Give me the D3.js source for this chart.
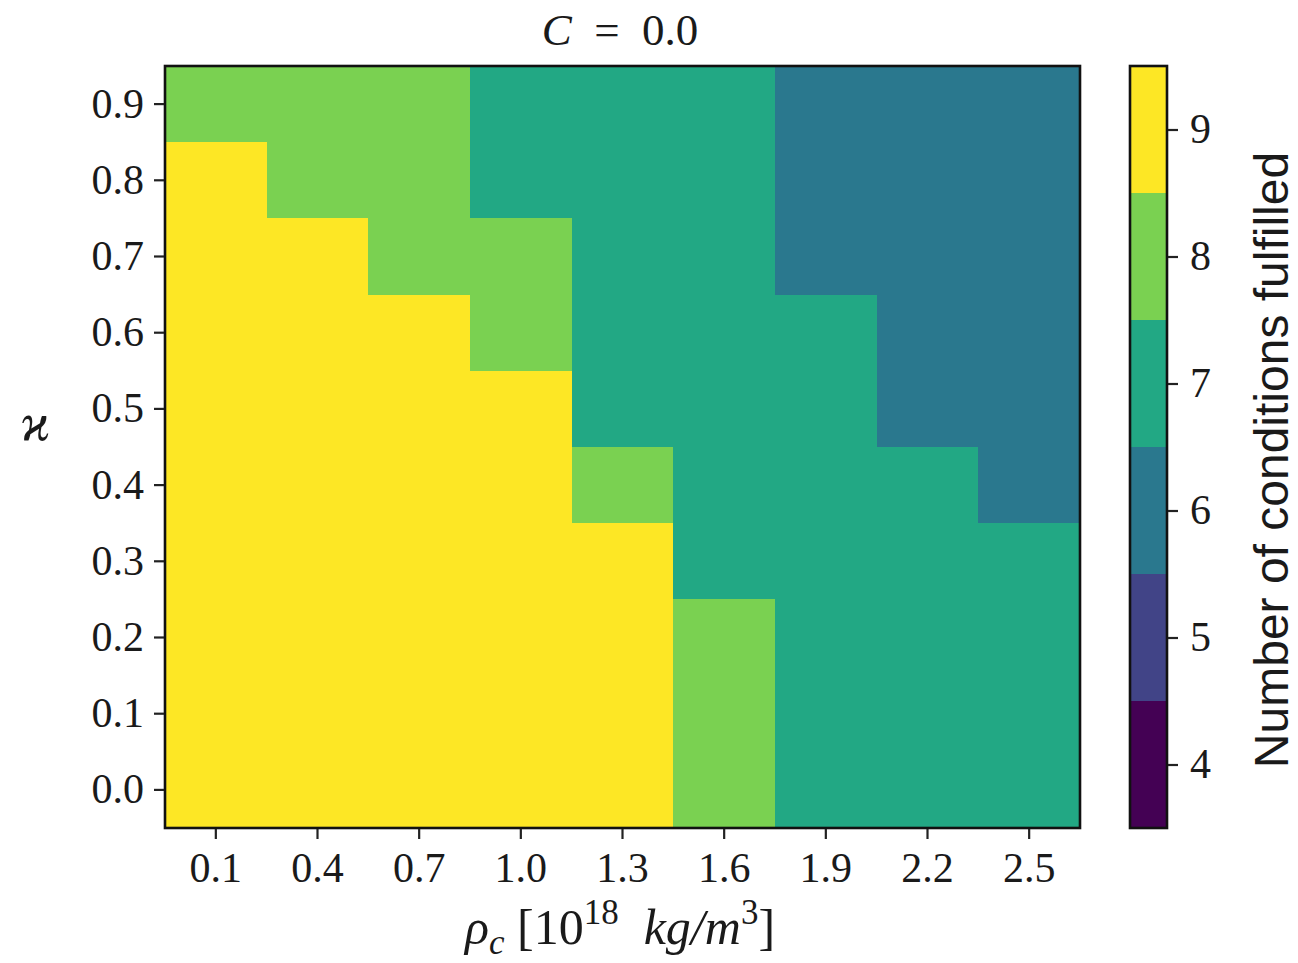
<!DOCTYPE html>
<html>
<head>
<meta charset="utf-8">
<script src="https://cdn.jsdelivr.net/npm/d3@7"></script>
<style>
  body { margin: 0; background: #fff; }
  text { font-family: "Liberation Serif", "DejaVu Serif", serif; fill: #1a1a1a; }
</style>
</head>
<body>
<svg id="chart" width="1298" height="963"></svg>
<script>
// categories
const rhoLabels = [ "0.1", "0.4", "0.7", "1.0", "1.3", "1.6", "1.9", "2.2", "2.5" ];
const kappaLabels = [ "0.0", "0.1", "0.2", "0.3", "0.4", "0.5", "0.6", "0.7", "0.8", "0.9" ];

// conditions fulfilled, one row per kappa (0.0 .. 0.9), one value per rho
const row00 = [ 9, 9, 9, 9, 9, 8, 7, 7, 7 ];
const row01 = [ 9, 9, 9, 9, 9, 8, 7, 7, 7 ];
const row02 = [ 9, 9, 9, 9, 9, 8, 7, 7, 7 ];
const row03 = [ 9, 9, 9, 9, 9, 7, 7, 7, 7 ];
const row04 = [ 9, 9, 9, 9, 8, 7, 7, 7, 6 ];
const row05 = [ 9, 9, 9, 9, 7, 7, 7, 6, 6 ];
const row06 = [ 9, 9, 9, 8, 7, 7, 7, 6, 6 ];
const row07 = [ 9, 9, 8, 8, 7, 7, 6, 6, 6 ];
const row08 = [ 9, 8, 8, 7, 7, 7, 6, 6, 6 ];
const row09 = [ 8, 8, 8, 7, 7, 7, 6, 6, 6 ];
const rows = [ row00, row01, row02, row03, row04, row05, row06, row07, row08, row09 ];

const levels = [ 4, 5, 6, 7, 8, 9 ];

const cells = [];
rows.forEach( ( r, i ) => r.forEach( ( v, j ) => cells.push( { x: rhoLabels[ j ], y: kappaLabels[ i ], v } ) ) );

const svg = d3.select( "#chart" );
const m = { left: 165, top: 66, right: 1080, bottom: 828 };

const x = d3.scaleBand().domain( rhoLabels ).range( [ m.left, m.right ] );
const y = d3.scaleBand().domain( kappaLabels ).range( [ m.bottom, m.top ] );
const color = d3.scaleOrdinal().domain( levels )
    .range( levels.map( ( d, i ) => d3.interpolateViridis( i / ( levels.length - 1 ) ) ) );

// cells, snapped to whole pixels so neighbours meet without seams
svg.append( "g" )
    .attr( "shape-rendering", "crispEdges" )
    .selectAll( "rect" )
    .data( cells )
    .enter()
    .append( "rect" )
    .attr( "x", d => Math.round( x( d.x ) ) )
    .attr( "y", d => Math.round( y( d.y ) ) )
    .attr( "width", d => Math.round( x( d.x ) + x.bandwidth() ) - Math.round( x( d.x ) ) )
    .attr( "height", d => Math.round( y( d.y ) + y.bandwidth() ) - Math.round( y( d.y ) ) )
    .attr( "fill", d => color( d.v ) );

svg.append( "rect" )
    .attr( "x", m.left ).attr( "y", m.top )
    .attr( "width", m.right - m.left ).attr( "height", m.bottom - m.top )
    .attr( "fill", "none" ).attr( "stroke", "#111" ).attr( "stroke-width", 2.6 );

const styleAxis = g => {
    g.select( ".domain" ).remove();
    g.selectAll( ".tick line" ).attr( "stroke", "#222" ).attr( "stroke-width", 2.2 );
    g.selectAll( ".tick text" ).style( "font-size", "42px" ).style( "font-family", "Liberation Serif, serif" )
        .attr( "fill", "#1a1a1a" );
};

svg.append( "g" )
    .attr( "transform", `translate(0,${ m.bottom + 1 })` )
    .call( d3.axisBottom( x ).tickSize( 10 ).tickPadding( 13 ) )
    .call( styleAxis );

svg.append( "g" )
    .attr( "transform", `translate(${ m.left - 1 },0)` )
    .call( d3.axisLeft( y ).tickSize( 10 ).tickPadding( 10 ) )
    .call( styleAxis );

// title
svg.append( "text" )
    .attr( "x", 620 ).attr( "y", 45 )
    .attr( "text-anchor", "middle" )
    .style( "font-size", "45px" )
    .html( '<tspan font-style="italic">C</tspan>  =  0.0' )
    .style( "white-space", "pre" );

// x label
svg.append( "text" )
    .attr( "x", 620 ).attr( "y", 944 )
    .attr( "text-anchor", "middle" )
    .style( "font-size", "50px" )
    .style( "white-space", "pre" )
    .html( '<tspan font-style="italic">ρ</tspan><tspan font-style="italic" font-size="35px" dy="10">c</tspan>' +
           '<tspan dy="-10"> [10</tspan><tspan font-size="35px" dy="-20">18</tspan>' +
           '<tspan dy="20" font-style="italic">  kg/m</tspan><tspan font-size="35px" dy="-20">3</tspan><tspan dy="20">]</tspan>' );

// y label
svg.append( "text" )
    .attr( "x", 35 ).attr( "y", 440 )
    .attr( "text-anchor", "middle" )
    .style( "font-size", "52px" )
    .style( "font-style", "italic" )
    .text( "ϰ" );

// colorbar
const cb = { left: 1130, right: 1167 };
const cy = d3.scaleLinear().domain( [ 3.5, 9.5 ] ).range( [ m.bottom, m.top ] );

svg.append( "g" )
    .attr( "shape-rendering", "crispEdges" )
    .selectAll( "rect" )
    .data( levels )
    .enter()
    .append( "rect" )
    .attr( "x", cb.left )
    .attr( "y", d => Math.round( cy( d + 0.5 ) ) )
    .attr( "width", cb.right - cb.left )
    .attr( "height", d => Math.round( cy( d - 0.5 ) ) - Math.round( cy( d + 0.5 ) ) )
    .attr( "fill", d => color( d ) );

svg.append( "rect" )
    .attr( "x", cb.left ).attr( "y", m.top )
    .attr( "width", cb.right - cb.left ).attr( "height", m.bottom - m.top )
    .attr( "fill", "none" ).attr( "stroke", "#111" ).attr( "stroke-width", 2.6 );

svg.append( "g" )
    .attr( "transform", `translate(${ cb.right + 1 },0)` )
    .call( d3.axisRight( cy ).tickValues( levels ).tickFormat( d3.format( "d" ) ).tickSize( 10 ).tickPadding( 12 ) )
    .call( styleAxis );

svg.append( "text" )
    .attr( "transform", "translate(1288,460) rotate(-90)" )
    .attr( "text-anchor", "middle" )
    .style( "font-family", "Liberation Sans, Arial, sans-serif" )
    .style( "font-size", "48px" )
    .attr( "fill", "#111" )
    .text( "Number of conditions fulfilled" );
</script>
</body>
</html>
